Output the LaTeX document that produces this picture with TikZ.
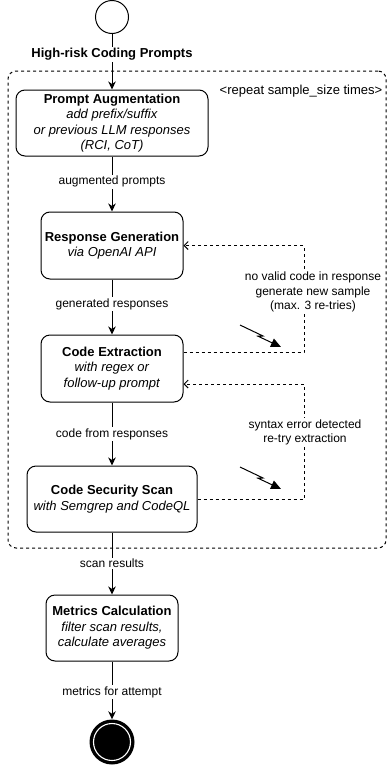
\documentclass[tikz,border=0pt]{standalone}
\usepackage{fontspec}
\setmainfont{Liberation Sans}
\usetikzlibrary{arrows.meta}
\tikzset{
  box/.style={draw, line width=1pt, rounded corners=9pt, align=center, inner sep=0pt,
    font=\fontsize{13}{15.5}\selectfont},
  flow/.style={draw, line width=1pt, -{Stealth[length=8pt,width=7.5pt,inset=2.5pt]}},
  back/.style={draw, line width=1pt, dash pattern=on 3pt off 3pt,
    -{Straight Barb[length=4pt,width=8pt]}},
  lbl/.style={fill=white, inner sep=1.5pt, align=center, font=\fontsize{12}{14.5}\selectfont},
  bolt/.style={draw, line width=1pt, -{Triangle[length=10pt,width=9pt]}},
}
\begin{document}
\begin{tikzpicture}[x=1pt,y=-1pt]
\useasboundingbox (0,0) rectangle (388,766);
% loop region
\node[draw, line width=1pt, dash pattern=on 3pt off 3pt, rounded corners=8pt,
  minimum width=378pt, minimum height=477pt, inner sep=0pt] (loop) at (197,309.5) {};
\node[font=\fontsize{13}{15.5}\selectfont, anchor=center] (rep) at (301,91) {<repeat sample\_size times>};

% start
\node[circle, draw, line width=1pt, minimum size=33pt, inner sep=0pt] (start) at (112,17) {};

% boxes
\node[box, minimum width=192pt, minimum height=66pt] (pa) at (112,123)
  {\textbf{Prompt Augmentation}\\\textit{add prefix/suffix}\\\textit{or previous LLM responses}\\\textit{(RCI, CoT)}};
\node[box, minimum width=142pt, minimum height=67pt] (rg) at (112,245.5)
  {\textbf{Response Generation}\\\textit{via OpenAI API}};
\node[box, minimum width=142pt, minimum height=67pt] (ce) at (112,368.5)
  {\textbf{Code Extraction}\\\textit{with regex or}\\\textit{follow-up prompt}};
\node[box, minimum width=170pt, minimum height=66pt] (cs) at (112,499)
  {\textbf{Code Security Scan}\\\textit{with Semgrep and CodeQL}};
\node[box, minimum width=132pt, minimum height=66pt] (mc) at (112,628)
  {\textbf{Metrics Calculation}\\\textit{filter scan results,}\\\textit{calculate averages}};

% end
\node[circle, fill=black, minimum size=45pt, inner sep=0pt] (end) at (112,742) {};
\draw[white, line width=1.1pt] (end.center) circle[radius=18.5pt];

% main flow
\path[flow] (start) -- node[lbl, pos=0.37, font=\fontsize{13}{15.5}\selectfont\bfseries] {High-risk Coding Prompts} (pa);
\path[flow] (pa) -- node[lbl, pos=0.46] {augmented prompts} (rg);
\path[flow] (rg) -- node[lbl, pos=0.45] {generated responses} (ce);
\path[flow] (ce) -- node[lbl, pos=0.5] {code from responses} (cs);
\path[flow] (cs) -- node[lbl, pos=0.5] {scan results} (mc);
\path[flow] (mc) -- node[lbl, pos=0.53] {metrics for attempt} (end);

% feedback loops
\coordinate (f1s) at ([yshift=16.5pt]ce.east);
\coordinate (f1a) at (304,352);
\coordinate (f1b) at (304,245.5);
\path[back] (f1s) -- (f1a) -- (f1b) -- (rg.east);
\node[lbl] (l1) at (313,292) {no valid code in response\\generate new sample\\(max. 3 re-tries)};

\coordinate (f2s) at (cs.east);
\coordinate (f2a) at (304,499);
\coordinate (f2b) at (304,384);
\path[back] (f2s) -- (f2a) -- (f2b) -- ([yshift=-15.5pt]ce.east);
\node[lbl] (l2) at (305,432.5) {syntax error detected\\re-try extraction};

% interrupt bolts
\coordinate (b1a) at (240,325);
\coordinate (b1b) at (263,336);
\coordinate (b1c) at (258,336.2);
\coordinate (b1d) at (281,347);
\path[bolt] (b1a) -- (b1b) -- (b1c) -- (b1d);
\coordinate (b2a) at (240,467);
\coordinate (b2b) at (263,478);
\coordinate (b2c) at (258,478.2);
\coordinate (b2d) at (281,489);
\path[bolt] (b2a) -- (b2b) -- (b2c) -- (b2d);
\end{tikzpicture}
\end{document}
